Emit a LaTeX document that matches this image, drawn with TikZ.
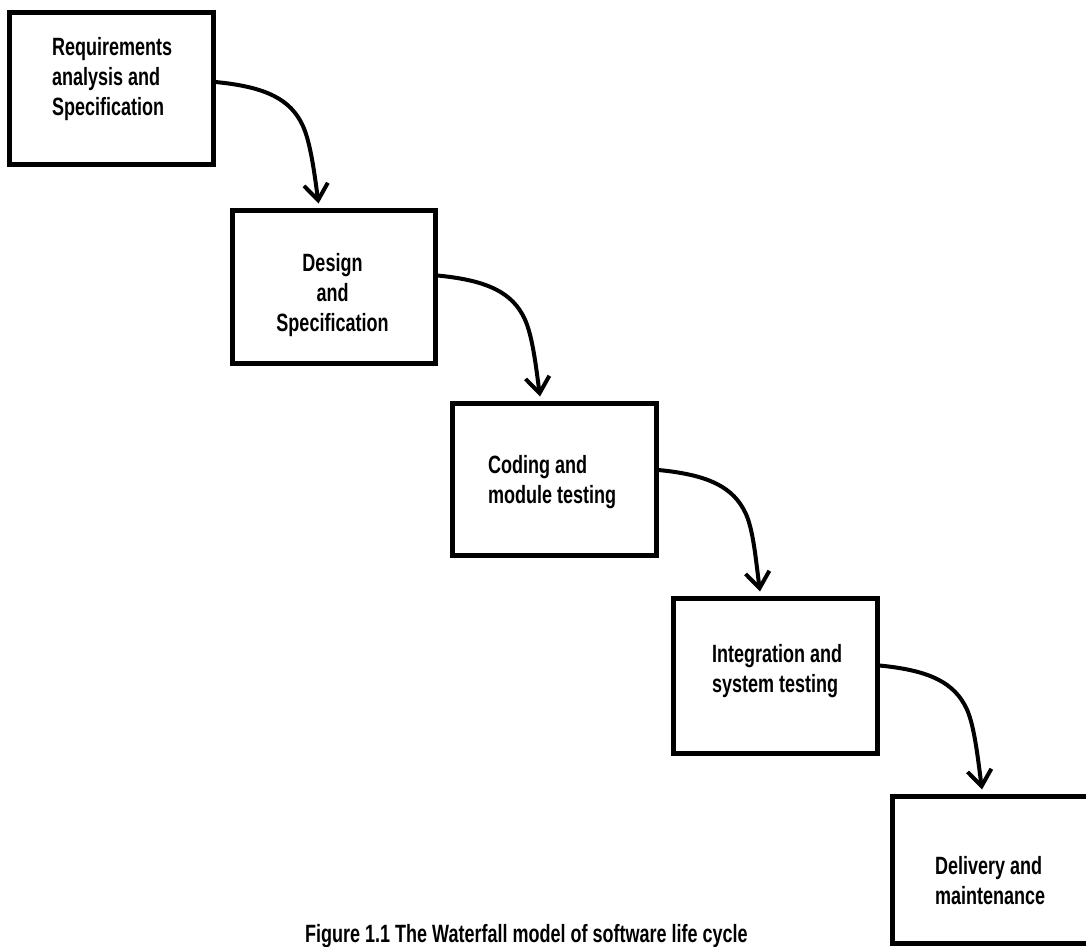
\documentclass[tikz,border=0pt]{standalone}
\usepackage{fontspec}
\newfontfamily\diagfont[FakeStretch=0.72]{Liberation Sans}
\usetikzlibrary{arrows.meta}
\begin{document}
\begin{tikzpicture}[x=1pt,y=-1pt,
  stage/.style={draw=black, line width=5pt, minimum width=204pt, inner sep=0pt},
  stagetext/.style={font=\diagfont\bfseries\fontsize{25}{30}\selectfont, inner sep=0pt},
  flow/.style={line width=4pt, line cap=round,
    -{Straight Barb[length=16pt,width=24pt,line width=4pt]}},
]
\clip (0,0) rectangle (1086,946);
\fill[white] (0,0) rectangle (1086,946);

% phase boxes
\node[stage, minimum height=152pt] (req) at (111,88) {};
\node[stage, minimum width=203pt, minimum height=153pt] (des) at (333.5,286.5) {};
\node[stage, minimum height=152pt] (cod) at (554,479) {};
\node[stage, minimum height=155pt] (int) at (775,675.5) {};
\node[stage, minimum height=147pt] (del) at (994,869.5) {};

% box labels
\node[stagetext, align=left, anchor=north west] (reqt) at (52,37)
  {Requirements\\analysis and\\Specification};
\node[stagetext, align=center, anchor=north] (dest) at (332.5,253)
  {Design\\and\\Specification};
\node[stagetext, align=left, anchor=north west] (codt) at (488,455)
  {Coding and\\module testing};
\node[stagetext, align=left, anchor=north west] (intt) at (712,644)
  {Integration and\\system testing};
\node[stagetext, align=left, anchor=north west] (delt) at (935,856)
  {Delivery and\\maintenance};

% flow from one phase to the next: out to the right, a knee, then down
\tikzset{waterfall/.style={to path={
  .. controls +(52,5) and +(-12,-25) .. +(87,43)
  .. controls +(8,17) and +(-4,-30) .. (\tikztotarget)}}}
\draw[flow] ([yshift=6pt]req.east) to[waterfall] ([xshift=-15pt,yshift=4pt]des.north);
\draw[flow] ([yshift=11pt]des.east) to[waterfall] ([xshift=-14pt,yshift=4pt]cod.north);
\draw[flow] ([yshift=9pt]cod.east) to[waterfall] ([xshift=-15pt,yshift=4pt]int.north);
\draw[flow] ([yshift=10pt]int.east) to[waterfall] ([xshift=-12pt,yshift=4pt]del.north);

% caption
\node[stagetext, anchor=base west] (cap) at (305,942)
  {Figure 1.1 The Waterfall model of software life cycle};
\end{tikzpicture}
\end{document}
